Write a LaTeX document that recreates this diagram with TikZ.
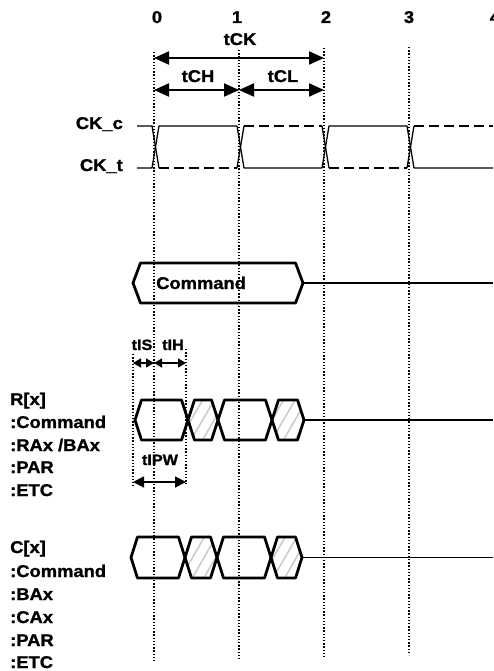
\documentclass[tikz,border=0pt]{standalone}
\usepackage{fontspec}
\setmainfont{Liberation Sans}[FakeStretch=1.08, BoldFeatures={FakeBold=1.2}]
\usetikzlibrary{arrows.meta,patterns.meta}
\begin{document}
\begin{tikzpicture}[x=1pt,y=-1pt,
  lbl/.style={font=\bfseries\fontsize{17}{20}\selectfont, inner sep=0pt},
  slbl/.style={font=\bfseries\fontsize{15}{18}\selectfont, inner sep=0pt},
  gridln/.style={line width=1.1pt, dash pattern=on 1.4pt off 1.8pt},
  clk/.style={line width=1.3pt},
  clkd/.style={line width=1.3pt, dash pattern=on 10pt off 5pt},
  busln/.style={line width=2.8pt, line join=round},
  hatch/.style={pattern={Lines[angle=60,distance=10pt,line width=1.6pt]}, pattern color=gray!40},
  tail/.style={line width=1.3pt},
  bigarr/.style={line width=2pt, {Triangle[length=15pt,width=13pt]}-{Triangle[length=15pt,width=13pt]}},
  smarr/.style={line width=1.6pt, {Triangle[length=8pt,width=9pt]}-{Triangle[length=8pt,width=9pt]}},
  midarr/.style={line width=1.8pt, {Triangle[length=11pt,width=11pt]}-{Triangle[length=11pt,width=11pt]}}
]
\useasboundingbox (0,0) rectangle (493,671);

% grid coordinates
\coordinate (g0t) at (154,52);  \coordinate (g0b) at (154,661);
\coordinate (g1t) at (239,50);  \coordinate (g1b) at (239,661);
\coordinate (g2t) at (324,48);  \coordinate (g2b) at (324,658);
\coordinate (g3t) at (409,47);  \coordinate (g3b) at (409,655);
\coordinate (gst) at (133,354); \coordinate (gsb) at (133,486);
\coordinate (ght) at (186,349); \coordinate (ghb) at (186,484);
\foreach \a/\b in {g0t/g0b,g1t/g1b,g2t/g2b,g3t/g3b,gst/gsb,ght/ghb}
  \draw[gridln] (\a) -- (\b);

% cycle numbers
\node[lbl,anchor=base] (n0) at (157,23) {0};
\node[lbl,anchor=base] (n1) at (237,23) {1};
\node[lbl,anchor=base] (n2) at (326,23) {2};
\node[lbl,anchor=base] (n3) at (409,23) {3};
\node[lbl,anchor=base] (n4) at (495,23) {4};

% timing arrows
\coordinate (ck0) at (154,58); \coordinate (ck2) at (324,58);
\coordinate (ch0) at (154,90); \coordinate (ch1) at (239,90); \coordinate (ch2) at (324,90);
\draw[bigarr] (ck0) -- (ck2);
\draw[bigarr] (ch0) -- (ch1);
\draw[bigarr] (ch1) -- (ch2);
\node[lbl,anchor=base] (tck) at (240,45) {tCK};
\node[lbl,anchor=base] (tch) at (198,82) {tCH};
\node[lbl,anchor=base] (tcl) at (283,82) {tCL};

% clock labels
\node[lbl,anchor=base east] (ckc) at (123,129) {CK\_c};
\node[lbl,anchor=base east] (ckt) at (123,171) {CK\_t};

% CK_t solid
\draw[clk,line join=round] (137,168) -- (152,168) -- (159,126) -- (237,126) -- (244,168) -- (322,168)
  -- (329,126) -- (407,126) -- (414,168) -- (493,168);
% CK_c dashed
\draw[clk] (137,126) -- (152,126) -- (159,168);
\draw[clkd] (159,168) -- (237,168);
\draw[clk] (237,168) -- (244,126);
\draw[clkd] (244,126) -- (322,126);
\draw[clk] (322,126) -- (329,168);
\draw[clkd] (329,168) -- (407,168);
\draw[clk] (407,168) -- (414,126);
\draw[clkd] (414,126) -- (493,126);

% Command bus
\draw[busln] (133,283) -- (140.5,263) -- (295.5,263) -- (303,283) -- (295.5,303) -- (140.5,303) -- cycle;
\coordinate (cmdend) at (303,283); \coordinate (cmdtail) at (493,283);
\draw[tail] (cmdend) -- (cmdtail);
\node[lbl,anchor=base west] (cmd) at (156,289) {Command};

% tIS / tIH
\coordinate (ss) at (133,363); \coordinate (sm) at (154,363); \coordinate (se) at (186,363);
\draw[smarr] (ss) -- (sm);
\draw[smarr] (sm) -- (se);
\node[slbl,anchor=base] (tis) at (142,350) {tIS};
\node[slbl,anchor=base] (tih) at (173,350) {tIH};
% tIPW
\coordinate (ps) at (133,482); \coordinate (pe) at (186,482);
\draw[midarr] (ps) -- (pe);
\node[slbl,anchor=base] (tipw) at (160,465) {tIPW};

% R[x] row: top 400 mid 420 bot 440
\def\dd{6.5}
\foreach \a/\b/\h in {135/188/0,188/218/1,218/272/0,272/304/1}{
  \ifnum\h=1
    \fill[hatch] (\a,420) -- (\a+\dd,400) -- (\b-\dd,400) -- (\b,420) -- (\b-\dd,440) -- (\a+\dd,440) -- cycle;
  \fi
  \draw[busln] (\a,420) -- (\a+\dd,400) -- (\b-\dd,400) -- (\b,420) -- (\b-\dd,440) -- (\a+\dd,440) -- cycle;
}
\coordinate (rend) at (304,420); \coordinate (rtail) at (493,420);
\draw[tail] (rend) -- (rtail);

% C[x] row: top 537 mid 557.5 bot 578
\foreach \a/\b/\h in {131/185/0,185/217/1,217/271/0,271/302/1}{
  \ifnum\h=1
    \fill[hatch] (\a,557.5) -- (\a+\dd,537) -- (\b-\dd,537) -- (\b,557.5) -- (\b-\dd,578) -- (\a+\dd,578) -- cycle;
  \fi
  \draw[busln] (\a,557.5) -- (\a+\dd,537) -- (\b-\dd,537) -- (\b,557.5) -- (\b-\dd,578) -- (\a+\dd,578) -- cycle;
}
\coordinate (cend) at (302,557.5); \coordinate (ctail) at (493,557.5);
\draw[tail] (cend) -- (ctail);

% left labels
\node[lbl,anchor=base west] (r0) at (10,405) {R[x]};
\node[lbl,anchor=base west] (r1) at (10,428) {:Command};
\node[lbl,anchor=base west] (r2) at (10,451) {:RAx /BAx};
\node[lbl,anchor=base west] (r3) at (10,473) {:PAR};
\node[lbl,anchor=base west] (r4) at (10,496) {:ETC};

\node[lbl,anchor=base west] (c0) at (10,553) {C[x]};
\node[lbl,anchor=base west] (c1) at (10,577) {:Command};
\node[lbl,anchor=base west] (c2) at (10,600) {:BAx};
\node[lbl,anchor=base west] (c3) at (10,623) {:CAx};
\node[lbl,anchor=base west] (c4) at (10,646) {:PAR};
\node[lbl,anchor=base west] (c5) at (10,668) {:ETC};
\end{tikzpicture}
\end{document}
